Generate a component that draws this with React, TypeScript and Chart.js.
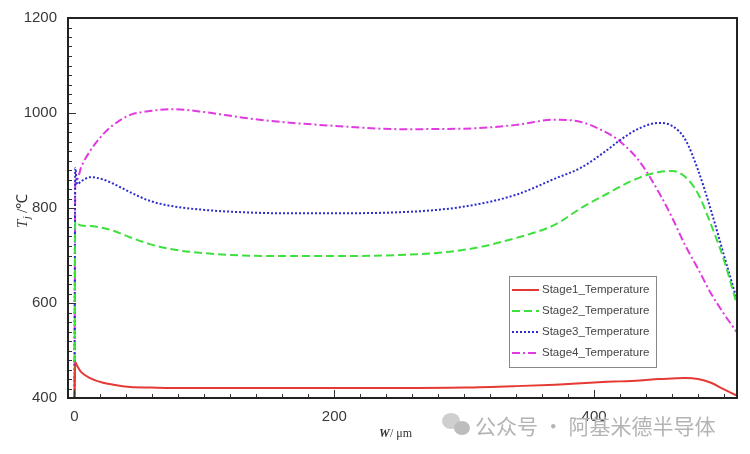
import React, { useEffect, useRef } from 'react';
import { Chart, registerables } from 'chart.js';

Chart.register(...registerables);

// W (μm) positions shared by all stages
const widths = [0, 0.6, 2, 5, 12, 22, 30, 43, 58, 75, 100, 130, 160, 200, 250, 300, 340, 370, 390, 410, 420, 435, 450, 460, 470, 480, 490, 500, 510];

const stage1 = [400, 476, 468, 455, 442, 432, 428, 423, 422, 421, 421, 421, 421, 421, 421, 422, 425, 428, 431, 434, 435, 437, 440, 441, 442, 440, 432, 418, 405];
const stage2 = [400, 771, 768, 763, 762, 758, 752, 738, 724, 713, 705, 700, 699, 699, 701, 712, 737, 765, 800, 830, 845, 864, 876, 878, 866, 830, 765, 690, 596];
const stage3 = [400, 884, 850, 856, 865, 860, 851, 833, 815, 804, 796, 791, 789, 789, 791, 803, 828, 862, 885, 922, 943, 968, 979, 973, 945, 880, 795, 700, 606];
const stage4 = [400, 850, 860, 885, 920, 955, 975, 996, 1004, 1008, 1002, 990, 981, 973, 966, 967, 975, 986, 981, 958, 940, 898, 832, 780, 722, 672, 620, 577, 538];

const seriesNames = ['Stage1_Temperature', 'Stage2_Temperature', 'Stage3_Temperature', 'Stage4_Temperature'];
const seriesValues = [stage1, stage2, stage3, stage4];
const seriesColors = ['#e53a33', '#3ee03e', '#2b2bd0', '#e03ae0'];
const seriesDashes = [[], [8, 4], [2, 2], [8, 3, 2, 3]];

const xTicks = [0, 200, 400];
const yTicks = [400, 600, 800, 1000, 1200];
const watermark = '公众号 · 阿基米德半导体';

const decorations = {
  id: 'decorations',
  afterDraw(chart: any) {
    const { ctx, chartArea: a, scales } = chart;
    const xs = scales.x;
    const ys = scales.y;
    ctx.save();

    // minor / major ticks pointing inward
    ctx.strokeStyle = '#333';
    ctx.lineWidth = 1;
    for (let v = 0; v <= 510; v += 20) {
      const px = Math.round(xs.getPixelForValue(v)) + 0.5;
      const len = v % 200 === 0 ? 8 : 4;
      ctx.beginPath();
      ctx.moveTo(px, a.bottom);
      ctx.lineTo(px, a.bottom - len);
      ctx.stroke();
    }
    for (let v = 400; v <= 1200; v += 20) {
      const py = Math.round(ys.getPixelForValue(v)) + 0.5;
      const len = v % 200 === 0 ? 8 : 4;
      ctx.beginPath();
      ctx.moveTo(a.left, py);
      ctx.lineTo(a.left + len, py);
      ctx.stroke();
    }

    // frame
    ctx.strokeStyle = '#222';
    ctx.lineWidth = 2;
    ctx.strokeRect(a.left, a.top, a.right - a.left, a.bottom - a.top);

    // legend
    const lx = 509, ly = 276, lw = 147, lh = 91;
    ctx.fillStyle = '#fff';
    ctx.fillRect(lx, ly, lw, lh);
    ctx.strokeStyle = '#888';
    ctx.lineWidth = 1;
    ctx.strokeRect(lx + 0.5, ly + 0.5, lw, lh);
    ctx.font = '11.5px "Liberation Sans", Arial, sans-serif';
    ctx.textBaseline = 'middle';
    seriesNames.forEach((name, i) => {
      const y = ly + 14 + i * 21;
      ctx.strokeStyle = seriesColors[i];
      ctx.lineWidth = 2;
      ctx.setLineDash(seriesDashes[i]);
      ctx.beginPath();
      ctx.moveTo(lx + 3, y);
      ctx.lineTo(lx + 30, y);
      ctx.stroke();
      ctx.setLineDash([]);
      ctx.fillStyle = '#444';
      ctx.fillText(name, lx + 33, y);
    });

    // y axis title: Tj /℃
    ctx.save();
    ctx.translate(22, 208);
    ctx.rotate(-Math.PI / 2);
    ctx.fillStyle = '#333';
    ctx.textBaseline = 'alphabetic';
    ctx.font = 'italic 15px "Liberation Serif", serif';
    ctx.fillText('T', -20, 5);
    ctx.font = 'italic 10px "Liberation Serif", serif';
    ctx.fillText('j', -11, 8);
    ctx.font = '15px "Liberation Serif", serif';
    ctx.fillText('/℃', -5, 5);
    ctx.restore();

    // x axis title: W/ μm
    ctx.fillStyle = '#333';
    ctx.textBaseline = 'alphabetic';
    ctx.font = 'italic bold 12px "Liberation Serif", serif';
    ctx.fillText('W', 379, 437);
    ctx.font = '12px "Liberation Serif", serif';
    ctx.fillText('/ μm', 390, 437);

    // watermark
    ctx.fillStyle = '#cfcfcf';
    ctx.beginPath();
    ctx.ellipse(451, 421, 9, 8, 0, 0, Math.PI * 2);
    ctx.fill();
    ctx.fillStyle = '#bdbdbd';
    ctx.beginPath();
    ctx.ellipse(462, 428, 8, 7, 0, 0, Math.PI * 2);
    ctx.fill();
    ctx.fillStyle = '#b4b4b4';
    ctx.font = '21px "Noto Sans CJK SC", sans-serif';
    ctx.fillText(watermark, 475, 434);

    ctx.restore();
  },
};

const App: React.FC = () => {
  const canvasRef = useRef<HTMLCanvasElement>(null);
  const chartRef = useRef<Chart | null>(null);

  useEffect(() => {
    if (!canvasRef.current) return;
    if (chartRef.current) chartRef.current.destroy();

    const tickFont = { family: '"Liberation Sans", Arial, sans-serif', size: 15 };

    chartRef.current = new Chart(canvasRef.current, {
      type: 'line',
      data: {
        datasets: seriesValues.map((vals, i) => ({
          label: seriesNames[i],
          data: widths.map((w, k) => ({ x: w, y: vals[k] })),
          borderColor: seriesColors[i],
          borderWidth: 2,
          borderDash: seriesDashes[i],
          pointRadius: 0,
          fill: false,
          cubicInterpolationMode: 'monotone' as const,
        })),
      },
      options: {
        animation: false,
        responsive: true,
        maintainAspectRatio: false,
        layout: { padding: { top: 18, right: 13, left: 0, bottom: 0 } },
        plugins: { legend: { display: false }, tooltip: { enabled: false } },
        scales: {
          x: {
            type: 'linear',
            min: -5,
            max: 510,
            grid: { display: false },
            border: { display: false },
            afterFit: (s: any) => { s.height = 56; },
            afterBuildTicks: (s: any) => { s.ticks = xTicks.map(v => ({ value: v })); },
            ticks: { padding: 2, color: '#3a3a3a', font: tickFont, callback: (v: any) => String(v) },
          },
          y: {
            min: 400,
            max: 1200,
            grid: { display: false },
            border: { display: false },
            afterFit: (s: any) => { s.width = 68; },
            afterBuildTicks: (s: any) => { s.ticks = yTicks.map(v => ({ value: v })); },
            ticks: { padding: 3, color: '#3a3a3a', font: tickFont, callback: (v: any) => String(v) },
          },
        },
      },
      plugins: [decorations],
    });

    return () => {
      if (chartRef.current) {
        chartRef.current.destroy();
        chartRef.current = null;
      }
    };
  }, []);

  return (
    <div style={{ position: 'fixed', left: 0, top: 0, width: 750, height: 454, background: '#fff' }}>
      <canvas ref={canvasRef}></canvas>
    </div>
  );
};

export default App;
